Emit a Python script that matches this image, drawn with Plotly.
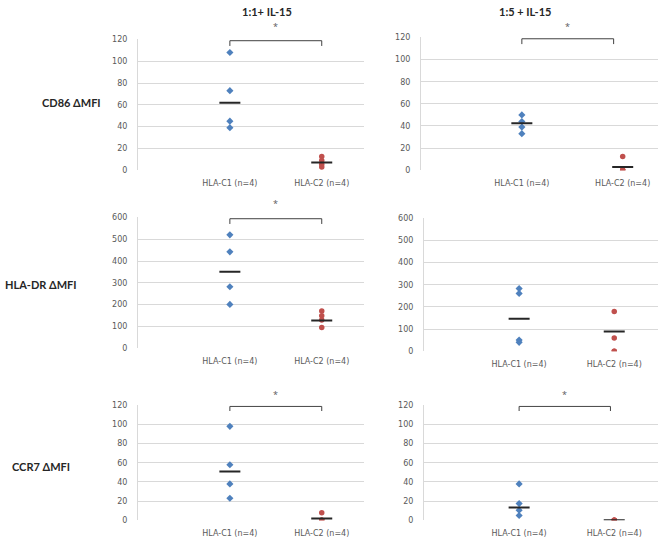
import plotly.graph_objects as go

groups = ["HLA-C1 (n=4)", "HLA-C2 (n=4)"]
conditions = ["1:1+ IL-15", "1:5 + IL-15"]
row_labels = ["CD86 \u0394MFI", "HLA-DR \u0394MFI", "CCR7 \u0394MFI"]

# values
cd86_11_c1 = [108, 73, 45, 39]
cd86_11_c2 = [12.5, 9, 5.5, 3]
cd86_11_line = [62, 7]

cd86_15_c1 = [50, 44, 39, 33]
cd86_15_c2 = [12.5, 0, 0, 0]
cd86_15_line = [42.5, 3]

dr_11_c1 = [520, 442, 282, 201]
dr_11_c2 = [171, 149, 130, 95]
dr_11_line = [351, 127]

dr_15_c1 = [283, 261, 50, 40]
dr_15_c2 = [179, 59, 0, 0]
dr_15_line = [147, 89]

ccr7_11_c1 = [98, 58, 38, 23]
ccr7_11_c2 = [8, 0, 0, 0]
ccr7_11_line = [51, 2]

ccr7_15_c1 = [38, 17.5, 10.5, 5]
ccr7_15_c2 = [0, 0, 0, 0]
ccr7_15_line = [13.5, 0]

y_max = [120, 120, 600, 600, 120, 120]
y_step = [20, 20, 100, 100, 20, 20]
signif = [True, True, True, False, True, True]

panels = [
    (cd86_11_c1, cd86_11_c2, cd86_11_line),
    (cd86_15_c1, cd86_15_c2, cd86_15_line),
    (dr_11_c1, dr_11_c2, dr_11_line),
    (dr_15_c1, dr_15_c2, dr_15_line),
    (ccr7_11_c1, ccr7_11_c2, ccr7_11_line),
    (ccr7_15_c1, ccr7_15_c2, ccr7_15_line),
]

W, H = 662, 545
# plot areas in pixels: left, right, top, bottom
boxes = [
    (138, 364, 36, 169), (421, 658, 34, 169),
    (138, 364, 217, 350), (424, 658, 218, 353),
    (138, 364, 408, 525), (424, 658, 408, 525),
]
x_max = [2.46, 2.35, 2.46, 2.46, 2.46, 2.46]
bracket_end = [2, 1.91, 2, 2, 2, 1.96]
star_px = [23, 23, 203, None, 397, 397]

BLUE = "#4f81bd"
RED = "#c0504d"
GRID = "#d9d9d9"
TXT = "#595959"

fig = go.Figure()
layout = {}
for i, (c1, c2, ln) in enumerate(panels):
    n = "" if i == 0 else str(i + 1)
    xa, ya = "x" + n, "y" + n
    fig.add_trace(go.Scatter(x=[1] * len(c1), y=c1, mode="markers", xaxis=xa, yaxis=ya,
                             marker=dict(symbol="diamond", size=5.5, color=BLUE)))
    fig.add_trace(go.Scatter(x=[2] * len(c2), y=c2, mode="markers", xaxis=xa, yaxis=ya,
                             marker=dict(symbol="circle", size=5.5, color=RED)))
    fig.add_trace(go.Scatter(x=[1, 2], y=ln, mode="markers", xaxis=xa, yaxis=ya,
                             marker=dict(symbol="line-ew", size=15,
                                         line=dict(color="#262626", width=2))))
    if signif[i]:
        top = y_max[i]
        e = bracket_end[i]
        fig.add_trace(go.Scatter(x=[1, 1, e, e], y=[top * 0.95, top * 0.99, top * 0.99, top * 0.95],
                                 mode="lines", xaxis=xa, yaxis=ya,
                                 line=dict(color="#404040", width=1)))
        fig.add_annotation(x=(1 + e) / 2, xref=xa, y=1 - star_px[i] / H, yref="paper", text="*",
                           showarrow=False, yanchor="middle",
                           font=dict(size=9, color=TXT))
    l, r, t, b = boxes[i]
    layout["xaxis" + n] = dict(domain=[l / W, r / W], range=[0, x_max[i]], anchor=ya,
                               tickvals=[1, 2], ticktext=groups, showgrid=False,
                               zeroline=False, showline=False, ticks="",
                               ticklabelstandoff=7,
                               tickfont=dict(family="DejaVu Sans", size=8, color=TXT))
    layout["yaxis" + n] = dict(domain=[1 - b / H, 1 - t / H], range=[0, y_max[i]], anchor=xa,
                               dtick=y_step[i], showgrid=True, gridcolor=GRID,
                               zeroline=False, showline=True, linecolor=GRID,
                               ticks="", ticklabelstandoff=8,
                               tickfont=dict(family="DejaVu Sans", size=8, color=TXT))

fig.update_layout(**layout)

for x_px, txt in zip([267, 553], conditions):
    fig.add_annotation(x=x_px / W, y=1 - 8 / H, xref="paper", yref="paper", text="<b>" + txt + "</b>",
                       showarrow=False, yanchor="middle",
                       font=dict(family="Lato", size=11, color="#262626"))
for (x_px, y_px), txt in zip([(40, 100), (3, 285), (10, 470)], row_labels):
    fig.add_annotation(x=x_px / W, y=1 - y_px / H, xref="paper", yref="paper", text="<b>" + txt + "</b>",
                       showarrow=False, xanchor="left", yanchor="middle",
                       font=dict(family="Lato", size=11, color="#262626"))

fig.update_layout(width=W, height=H, margin=dict(l=0, r=0, t=0, b=0),
                  plot_bgcolor="white", paper_bgcolor="white", showlegend=False)
fig.write_html("out.html", config={"displayModeBar": False},
               post_script="document.body.style.margin='0';")
